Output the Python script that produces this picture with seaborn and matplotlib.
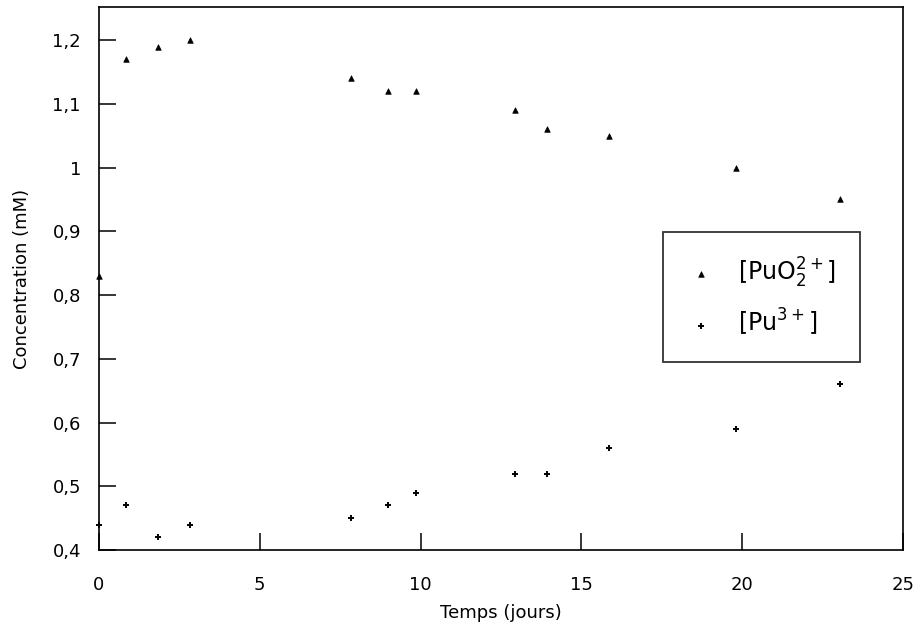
import matplotlib
matplotlib.use("Agg")
import matplotlib.pyplot as plt
import seaborn as sns
import pandas as pd

temps = [0, 0.85, 1.83, 2.82, 7.83, 9.0, 9.87, 12.93, 13.93, 15.85, 19.82, 23.05]
puo2 = [0.83, 1.17, 1.19, 1.20, 1.14, 1.12, 1.12, 1.09, 1.06, 1.05, 1.00, 0.95]
pu3 = [0.44, 0.47, 0.42, 0.44, 0.45, 0.47, 0.49, 0.52, 0.52, 0.56, 0.59, 0.66]

xticks = [0, 5, 10, 15, 20, 25]
xticklabels = ["0", "5", "10", "15", "20", "25"]
yticks = [0.4, 0.5, 0.6, 0.7, 0.8, 0.9, 1.0, 1.1, 1.2]
yticklabels = ["0,4", "0,5", "0,6", "0,7", "0,8", "0,9", "1", "1,1", "1,2"]

label_a = r"[PuO$_2^{2+}$]"
label_b = r"[Pu$^{3+}$]"

sns.set_style("white")
plt.rcParams["font.family"] = ["DejaVu Sans"]
plt.rcParams["mathtext.fontset"] = "dejavusans"
plt.rcParams["text.color"] = "black"

df_a = pd.DataFrame({"t": temps, "c": puo2})
df_b = pd.DataFrame({"t": temps, "c": pu3})

fig = plt.figure(figsize=(9.22, 6.35), dpi=100)
ax = fig.add_axes([99 / 922, 1 - 550 / 635, 804 / 922, 543 / 635])

sns.scatterplot(data=df_a, x="t", y="c", ax=ax, marker="^", s=16, color="black",
                edgecolor="black", linewidth=0.5, label=label_a, clip_on=False)
sns.scatterplot(data=df_b, x="t", y="c", ax=ax, marker="+", s=14, color="black",
                linewidth=1.4, label=label_b, clip_on=False)

ax.set_xlim(0, 25)
ax.set_ylim(0.4, 1.252)
ax.set_xticks(xticks)
ax.set_xticklabels(xticklabels)
ax.set_yticks(yticks)
ax.set_yticklabels(yticklabels)

for sp in ax.spines.values():
    sp.set_color("black")
    sp.set_linewidth(1.2)

ax.tick_params(axis="both", which="major", bottom=True, left=True, top=False, right=False,
               direction="in", length=12, width=1.1, color="black",
               labelsize=13, labelcolor="black")
ax.tick_params(axis="x", pad=19)
ax.tick_params(axis="y", pad=13)

ax.set_xlabel("Temps (jours)", fontsize=13, color="black")
ax.set_ylabel("Concentration (mM)", fontsize=13, color="black")
ax.xaxis.set_label_coords(0.5, -0.1)
ax.yaxis.set_label_coords(-0.085, 0.5)

leg = ax.legend(loc="center right", bbox_to_anchor=(0.9465, 0.466), frameon=True,
                fancybox=False, fontsize=17, borderpad=1.0, labelspacing=0.75,
                handletextpad=1.0, borderaxespad=0, markerscale=1.0, handlelength=1.2)
leg.get_frame().set_edgecolor("black")
leg.get_frame().set_linewidth(1.3)
for t in leg.get_texts():
    t.set_color("black")

fig.savefig("out.png", dpi=100)
